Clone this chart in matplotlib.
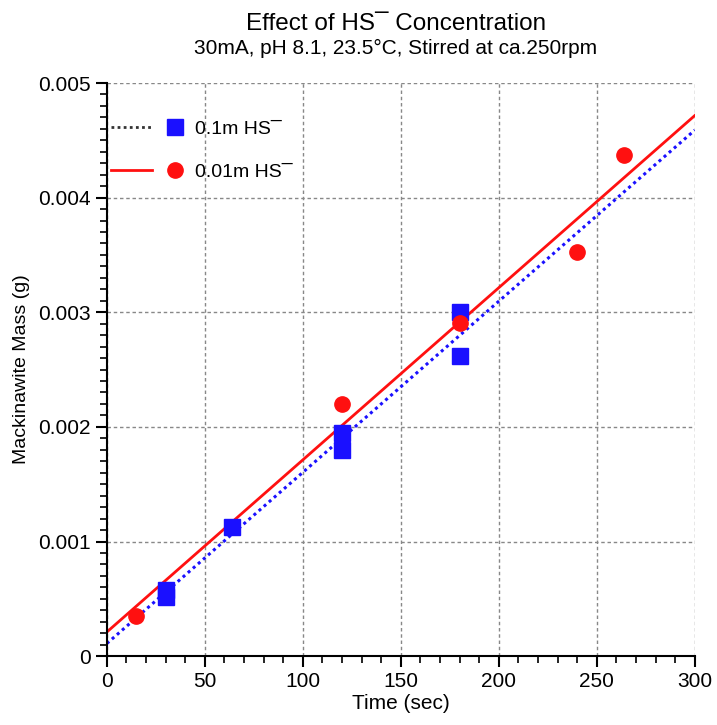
import matplotlib
matplotlib.use("Agg")
import numpy
import matplotlib.pyplot as plt
from matplotlib.lines import Line2D
from matplotlib.legend_handler import HandlerTuple
from matplotlib.ticker import MultipleLocator

plt.rcParams['font.family'] = ['Liberation Sans', 'DejaVu Sans']

### Data
t_01 = [30, 30, 64, 120, 120, 180, 180]
m_01 = [0.00058, 0.00052, 0.00113, 0.00195, 0.00180, 0.00300, 0.00262]
t_001 = [15, 120, 180, 240, 264]
m_001 = [0.00035, 0.00220, 0.00291, 0.00353, 0.00437]

# fitted lines (intercept, slope) read at x=0 and x=300
fit_01 = (0.00011, 1.493e-5)
fit_001 = (0.00021, 1.502e-5)

blue = '#1a10ff'
red = '#ff1010'

fig = plt.figure(figsize=(7.17, 7.25), dpi=100)
ax = fig.add_axes([0.149, 0.095, 0.82, 0.7905])

tt = numpy.array([0, 300])
ax.plot(tt, fit_01[0] + fit_01[1] * tt, color=blue, linestyle=(0, (1, 1.2)), linewidth=2.2, zorder=2)
ax.plot(tt, fit_001[0] + fit_001[1] * tt, color=red, linewidth=2, zorder=2)
ax.plot(t_01, m_01, 's', color=blue, markersize=11.5, zorder=3)
ax.plot(t_001, m_001, 'o', color=red, markersize=11, zorder=3)

ax.set_xlim(0, 300)
ax.set_ylim(0, 0.005)
ax.xaxis.set_major_locator(MultipleLocator(50))
ax.xaxis.set_minor_locator(MultipleLocator(10))
ax.yaxis.set_major_locator(MultipleLocator(0.001))
ax.yaxis.set_minor_locator(MultipleLocator(0.0001))
ax.set_yticks([0, 0.001, 0.002, 0.003, 0.004, 0.005])
ax.set_yticklabels(['0', '0.001', '0.002', '0.003', '0.004', '0.005'])

ax.grid(True, which='major', color='#888888', linestyle=(0, (2.5, 2)), linewidth=1)
ax.spines['top'].set_visible(False)
ax.spines['right'].set_visible(False)
ax.spines['left'].set_linewidth(1.5)
ax.spines['bottom'].set_linewidth(1.5)
ax.tick_params(which='major', direction='out', length=8, width=1.5, labelsize=15)
ax.tick_params(which='minor', direction='out', length=5, width=1.2)

ax.set_xlabel("Time (sec)", fontsize=15, labelpad=2)
ax.set_ylabel("Mackinawite Mass (g)", fontsize=14, labelpad=6)

fig.text(0.552, 0.958, "Effect of HS\u00af Concentration", ha='center', fontsize=17.5)
fig.text(0.552, 0.925, "30mA, pH 8.1, 23.5°C, Stirred at ca.250rpm", ha='center', fontsize=15)

h1 = (Line2D([], [], color='#333333', linestyle=(0, (1, 1.2)), linewidth=2),
      Line2D([], [], marker='s', color=blue, linestyle='none', markersize=11.5))
h2 = (Line2D([], [], color=red, linewidth=2),
      Line2D([], [], marker='o', color=red, linestyle='none', markersize=11))
ax.legend([h1, h2], ["0.1m HS\u00af", "0.01m HS\u00af"],
          handler_map={tuple: HandlerTuple(ndivide=None, pad=0.1)},
          loc='upper left', bbox_to_anchor=(-0.012, 0.955), frameon=False,
          fontsize=14, handlelength=4.3, handletextpad=0.0, labelspacing=1.3,
          borderaxespad=0.2)

fig.savefig("out.png", dpi=100)
